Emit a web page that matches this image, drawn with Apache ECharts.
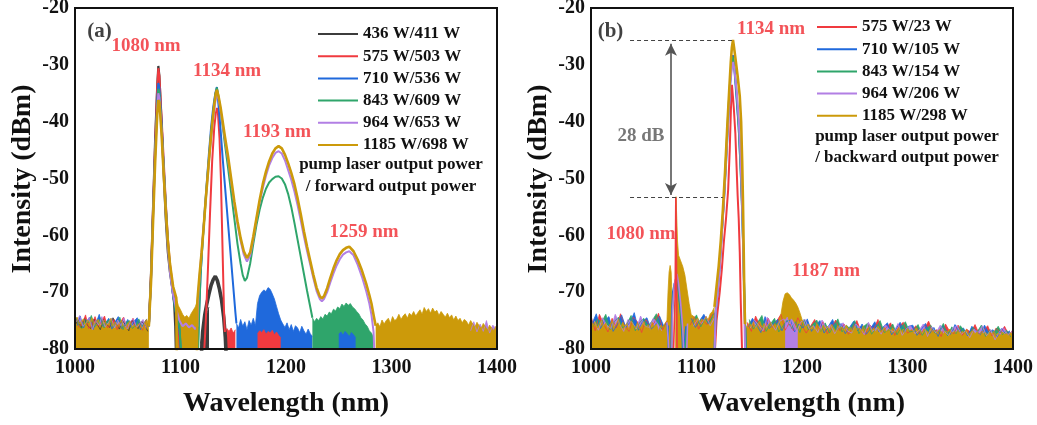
<!DOCTYPE html>
<html>
<head>
<meta charset="utf-8">
<script src="https://cdn.jsdelivr.net/npm/echarts@6.0.0/dist/echarts.min.js"></script>
<style>
html, body { margin: 0; padding: 0; background: #fff; }
#chart { width: 1037px; height: 425px; }
</style>
</head>
<body>
<div id="chart"></div>
<script>
// ---------- axes ----------
const wavelengthRange = [1000, 1400, 100];   // min, max, step (nm)
const intensityRange = [-80, -20, 10];       // min, max, step (dBm)

// ---------- legend names ----------
const namesA = ['436 W/411 W', '575 W/503 W', '710 W/536 W', '843 W/609 W', '964 W/653 W', '1185 W/698 W'];
const namesB = ['575 W/23 W', '710 W/105 W', '843 W/154 W', '964 W/206 W', '1185 W/298 W'];

// ================= (a) forward output spectra =================
// smooth parts of each trace, [wavelength nm, dBm]; -82 marks where the trace drops below the floor
const blackA = [[1070,-76],[1072,-67],[1074,-55],[1076,-43],[1078,-33.5],[1079,-30.2],[1080,-32],[1082,-40],[1084,-49],[1086,-57],[1088,-63],[1090,-66.5],[1092,-69],[1094,-72],[1095,-76],[1095.8,-82]];
const blackA_hump = [[1119.5,-82],[1121,-77],[1123,-74],[1125,-72],[1127,-70.3],[1129,-68.8],[1131,-67.8],[1133,-67.2],[1135,-68],[1137,-69.5],[1139,-71.5],[1141,-74.5],[1142.5,-78],[1143.5,-82]];
const redA = [[1070,-76],[1072,-67],[1074,-55],[1076,-43.5],[1078,-33.5],[1079,-30.6],[1080,-32],[1082,-39],[1084,-46.5],[1086,-54],[1088,-60.5],[1090,-65],[1093,-69.5],[1096,-73],[1098,-75.5],[1100,-82],[1122,-82],[1124,-75],[1126,-66],[1128,-56],[1130,-47],[1132,-41],[1133.5,-38.5],[1134.5,-37.6],[1135.5,-38.5],[1137,-43],[1138.3,-50],[1139.3,-58],[1140.3,-66],[1141.2,-73],[1142,-77]];
const blueA = [[1070,-76],[1072,-68],[1074,-56],[1076,-45],[1078,-36],[1079,-33.2],[1080,-34],[1082,-40],[1084,-47.5],[1086,-54.5],[1088,-61],[1090,-65.5],[1093,-70.5],[1096,-74],[1099,-76.5],[1101,-82],[1116,-82],[1117.5,-74],[1119,-67],[1121,-61],[1123,-55.5],[1125,-50.5],[1127,-45.5],[1129,-41],[1131,-37.5],[1133,-35],[1134.5,-33.9],[1136,-37],[1138,-41.5],[1140,-46.5],[1142,-51],[1144,-55.5],[1146,-60],[1148,-64.5],[1150,-69],[1152,-73.5],[1153,-75.5]];
const greenA = [[1070,-76],[1072,-68],[1074,-56.5],[1076,-45.5],[1078,-37],[1079,-34.2],[1080,-35],[1082,-41],[1084,-48],[1086,-55],[1088,-61.5],[1090,-66],[1093,-70.5],[1096,-74],[1099,-76],[1101,-82],[1116.5,-82],[1117.5,-75],[1119,-67],[1121,-61],[1123,-56],[1125,-51],[1127,-46.5],[1129,-42],[1131,-38.5],[1133,-35.3],[1134.5,-34],[1136,-35.5],[1138,-38],[1140,-40.8],[1142,-43.8],[1145,-48],[1148,-52.5],[1151,-57],[1154,-61.5],[1157,-65],[1159,-67],[1161,-68],[1163,-67.5],[1166,-65],[1169,-61.5],[1172,-58.2],[1175,-55.5],[1178,-53.4],[1181,-51.8],[1184,-50.7],[1187,-50.1],[1190,-49.7],[1193,-49.6],[1196,-50],[1199,-51],[1202,-52.7],[1205,-55],[1208,-57.8],[1211,-60.8],[1214,-63.8],[1217,-66.8],[1220,-69.8],[1223,-72.6],[1225,-74.5]];
const purpleA = [[1070,-76],[1072,-68.5],[1074,-57],[1076,-46],[1078,-37.5],[1079,-35],[1080,-35.8],[1082,-41.5],[1084,-48.5],[1086,-55.5],[1088,-62],[1090,-66.5],[1093,-70.5],[1096,-73],[1099,-75],[1102,-76],[1105,-75.5],[1108,-76.2],[1111,-75.8],[1114,-76.5],[1116,-76],[1117,-70],[1119,-65],[1121,-60.5],[1123,-56],[1125,-51.5],[1127,-47],[1129,-43],[1131,-39.5],[1133,-36.5],[1134.5,-35.2],[1136,-36],[1138,-38],[1140,-40.5],[1142,-43],[1145,-46.5],[1148,-50.5],[1151,-54.5],[1154,-58],[1157,-61],[1160,-63.4],[1163,-64.6],[1166,-63.6],[1169,-60.6],[1172,-57.2],[1175,-54.2],[1178,-51.7],[1181,-49.5],[1184,-47.7],[1187,-46.4],[1190,-45.5],[1193,-45.2],[1196,-45.6],[1199,-46.8],[1202,-48.5],[1205,-50.2],[1208,-52.3],[1211,-54.7],[1214,-57.4],[1217,-60.2],[1220,-62.8],[1223,-65.2],[1226,-67.6],[1229,-69.8],[1232,-71.2],[1234,-71.6],[1236,-71.2],[1239,-70],[1242,-68.3],[1245,-66.7],[1248,-65.3],[1251,-64.2],[1254,-63.4],[1257,-63],[1260,-62.8],[1264,-63.5],[1268,-65.2],[1272,-67.3],[1276,-69.8],[1279,-72],[1281,-74],[1283,-77],[1284,-82]];
const goldA = [[1070,-76],[1072,-68.5],[1074,-57.5],[1076,-47],[1078,-38.5],[1079,-36.2],[1080,-36.6],[1082,-42],[1084,-49],[1086,-55.5],[1088,-61],[1090,-65],[1093,-69],[1096,-71],[1096.5,-82],[1115.5,-82],[1116,-71.5],[1118,-67],[1120,-63],[1122,-58.5],[1124,-53.5],[1126,-49],[1128,-44.5],[1130,-40.5],[1132,-37],[1133.5,-35],[1134.5,-34.4],[1136,-35.5],[1138,-37.5],[1140,-40],[1142,-42.5],[1145,-46],[1148,-50],[1151,-54],[1154,-57.5],[1157,-60.5],[1160,-62.8],[1163,-64],[1166,-63],[1169,-60.2],[1172,-57],[1175,-53.8],[1178,-51],[1181,-48.8],[1184,-47],[1187,-45.6],[1190,-44.7],[1193,-44.3],[1196,-44.7],[1199,-45.8],[1202,-47.3],[1205,-49],[1208,-51],[1211,-53.5],[1214,-56.3],[1217,-59.3],[1220,-62],[1223,-64.5],[1226,-67],[1229,-69.2],[1232,-70.7],[1234,-71.1],[1236,-70.7],[1239,-69.3],[1242,-67.5],[1245,-65.8],[1248,-64.4],[1251,-63.3],[1254,-62.6],[1257,-62.2],[1260,-62],[1264,-62.8],[1268,-64.3],[1272,-66.2],[1276,-68.5],[1279,-70.5],[1281,-72],[1283,-74],[1285,-75.9]];

// noise-floor envelopes (upper edge, dBm) sampled on regular wavelength grids
const blackA_L = [-75.8,-74.9,-76.3,-74.6,-75.9,-76.4,-74.7,-75.6,-76.6,-74.8,-75.7,-76.2,-74.5,-75.5,-76.5,-75.0,-75.8,-76.8,-74.9,-76.0,-76.4,-75.1,-75.7,-76.9];
const blackA_H = [-79,-77,-75.3,-73.8,-72.6];
const redA_L = [-74.5,-76.2,-75.5,-74.0,-76.4,-75.8,-74.3,-76.0,-75.2,-74.2,-76.3,-75.6,-74.8,-76.6,-75.3,-74.4,-76.2,-75.8,-74.6,-76.3,-75.4,-76.7,-74.9];
const redA_M = [-77.0,-76.4,-76.9,-76.3,-77.2,-76.6];
const redA_U = [-77.3,-76.8,-77.1,-76.6,-77.4,-76.9,-77.2,-76.7,-77.5,-77.0,-77.6,-78.0];
const blueA_L = [-75.9,-74.2,-76.3,-75.1,-74.4,-76.6,-75.4,-73.9,-76.0,-75.4,-74.6,-76.5,-75.2,-74.3,-76.4,-75.8,-74.8,-76.2,-75.1,-74.5,-76.6,-75.6,-74.7];
const blueA_M = [-75.5,-76.3,-74.8,-76.0,-75.2,-76.6,-75.0,-75.8,-74.6,-75.9,
  -72.0,-70.6,-70.0,-69.6,-69.9,-69.2,-69.5,-70.3,-71.2,-72.5,
  -73.8,-74.9,-75.6,-76.2,-75.4,-76.6,-75.7,-76.9,-75.9,-76.3,
  -77.1,-76.0,-76.8,-77.4,-76.5,-77.3,-77.8];
const blueA_U = [-77.4,-77.0,-77.6,-76.9,-77.3,-77.8,-77.1,-77.5,-78.0];
const greenA_L = [-74.3,-75.7,-76.4,-74.8,-75.4,-74.1,-76.1,-75.6,-74.5,-76.3,-75.1,-74.8,-76.2,-75.5,-74.4,-76.6,-75.3,-75.0,-76.4,-75.8,-74.7,-76.0,-75.4];
const greenA_M = [-74.5,-75.2,-74.6,-75.0,-74.3,-74.7,-73.9,-74.2,-73.5,-73.8,-73.0,-73.3,-72.6,-72.9,-72.1,-72.5,-71.9,-72.3,-72.0,-72.6,-72.9,-73.4,-73.8,-74.5,-74.9,-75.6,-76.0,-76.8,-77.2,-78.0];
const purpleA_L = [-75.2,-74.1,-76.0,-75.5,-74.4,-76.6,-75.0,-75.8,-74.3,-76.1,-75.4,-74.6,-76.3,-74.9,-75.9,-74.5,-76.5,-75.1,-74.7,-76.2,-75.5,-74.8,-76.4];
const purpleA_R = [-76.8,-75.2,-77.0,-75.6,-76.9,-75.0,-77.2,-75.8,-76.4];
const goldA_L = [-75.0,-74.4,-75.6,-75.1,-74.7,-75.8,-74.9,-75.4,-74.5,-75.7,
  -75.2,-74.8,-76.0,-75.3,-74.9,-75.8,-75.5,-74.6,-75.9,-75.2,
  -76.1,-75.4,-75.0,-75.9,-76.3,-75.5,-75.1,-76.2,-75.7,-76.4,
  -75.6,-75.9,-76.5,-75.3,-74.8,-75.9];
const goldA_M = [-71.0,-72.4,-73.1,-73.9,-74.4,-74.1,-74.6,-73.8,-73.2,-72.6,-71.5];
const goldA_R = [-75.9,-75.4,-76.1,-74.9,-75.6,-75.0,-74.6,-75.5,-74.3,-75.0,
  -74.7,-73.9,-74.8,-74.2,-73.8,-74.6,-73.7,-74.1,-73.4,-74.2,
  -73.6,-73.1,-73.9,-72.7,-73.4,-72.9,-73.7,-72.8,-73.5,-73.2,
  -74.1,-73.4,-73.9,-74.4,-73.7,-74.5,-74.0,-74.9,-74.2,-75.0,
  -74.6,-75.4,-74.8,-75.1,-75.8,-75.0,-75.6,-76.2,-75.3,-75.9,
  -76.4,-75.5,-76.1,-76.7,-75.8,-76.3,-76.8,-76.0,-76.6];

// ================= (b) backward output spectra =================
const redB = [[1117,-82],[1119,-75],[1122,-70],[1124,-66],[1126,-61],[1128,-57],[1130,-52],[1131.5,-45],[1132.6,-38],[1133.6,-33.5],[1134.5,-35.5],[1135.5,-38],[1136.8,-42],[1138,-48],[1139,-53],[1140,-57],[1141,-63],[1142,-72],[1143,-79],[1143.4,-82]];
const blueB = [[1117,-82],[1118,-74],[1120,-69.5],[1122,-65],[1124,-59.5],[1126,-54],[1128,-47.5],[1130,-40],[1132,-33],[1133.5,-29.5],[1134.5,-28.3],[1136,-31],[1138,-36],[1140,-41],[1142,-49],[1143.5,-57],[1145,-68],[1146.5,-78],[1147,-82]];
const greenB = [[1117,-82],[1118,-74],[1120,-70],[1122,-65.5],[1124,-59.5],[1126,-53.5],[1128,-46],[1130,-38.5],[1132,-32.5],[1133.5,-29.5],[1134.6,-28.6],[1136,-30.5],[1138,-35],[1140,-41],[1141.5,-47],[1143,-54],[1144.3,-62],[1145.5,-72],[1146.5,-79],[1147,-82]];
const purpleB = [[1117,-82],[1118,-74],[1120,-70],[1122,-66],[1124,-60],[1126,-54],[1128,-47],[1130,-40],[1132,-33.5],[1133.5,-30.5],[1134.8,-29.5],[1136,-31],[1138,-34.5],[1140,-39.5],[1141.5,-45],[1142.8,-52],[1144,-60],[1145,-70],[1145.8,-78],[1146.3,-82]];
const goldB = [[1117,-72.6],[1119,-69],[1121,-65.5],[1123,-61],[1125,-55.5],[1127,-49],[1129,-41.5],[1131,-34.5],[1132.5,-29.5],[1133.5,-27],[1134.6,-25.6],[1135.5,-26.8],[1137,-29],[1139,-32],[1141,-35.5],[1142.3,-40],[1143.3,-47],[1144,-53.5],[1144.7,-62],[1145.3,-70],[1146,-75.6]];
// weak 1080 nm line of the backward spectra
const redB_1080 = [[1078,-82],[1079.8,-70],[1080.4,-53.3],[1081,-65],[1081.6,-82]];
const blueB_1080 = [[1071,-75.5],[1073,-76],[1073.6,-82],[1075.8,-82],[1076.5,-74],[1077.5,-70],[1079,-68.5],[1081,-68],[1083,-70],[1085,-74],[1086.5,-78],[1087.2,-82],[1089,-82],[1090,-76]];
const greenB_1080 = [[1072,-75.8],[1073,-78],[1073.8,-82],[1076.2,-82],[1077,-74],[1078.5,-69.5],[1080.5,-67.5],[1082,-68],[1084,-71.5],[1086,-75.5],[1087.5,-79],[1088.2,-82],[1090,-82],[1091,-76]];
const purpleB_1080 = [[1072,-75.3],[1073.2,-78.5],[1074,-82],[1076.5,-82],[1077.3,-73],[1079,-68.5],[1081.5,-66.8],[1083,-68.5],[1085,-72],[1087,-76.5],[1088.3,-82],[1090.5,-82],[1091.5,-75.5]];
const goldB_1080 = [[1073,-70],[1074,-66.5],[1075,-65.3],[1076,-66.5],[1077,-72],[1077.8,-80],[1080.2,-80],[1080.6,-53.2],[1081.3,-57],[1082,-61],[1083,-63.5],[1085,-64.5],[1087,-65.5],[1089,-67],[1091,-69.5],[1093,-72],[1095,-74]];

const redB_L = [-74.2,-76.8,-73.9,-75.6,-77.0,-74.6,-76.3,-73.8,-75.9,-76.9,-74.4,-75.2,-77.1,-74.8,-76.0,-75.4,-73.7,-76.6,-75.0];
const redB_M = [-75.8,-74.3,-76.5,-74.9,-75.7,-74.1,-73.6];
const redB_R = [-75.3,-76.9,-74.2,-75.8,-77.0,-74.6,-76.2,-75.1,-73.9,-76.7,
  -75.4,-76.8,-74.5,-75.9,-77.2,-76.0,-74.8,-76.6,-75.2,-77.3,
  -76.1,-74.9,-76.8,-75.6,-77.4,-76.3,-75.0,-76.9,-77.5,-75.7,
  -76.5,-74.8,-77.1,-76.2,-75.4,-77.6,-76.0,-75.3,-77.2,-76.7,
  -75.9,-77.5,-76.4,-75.1,-77.0,-76.6,-77.8,-75.6,-76.9,-77.3,
  -75.8,-77.6,-76.5,-77.1,-75.7,-77.4,-76.8,-75.9,-77.7,-76.3,
  -77.2,-76.0,-77.5,-76.6];
const blueB_L = [-75.5,-73.8,-76.4,-75.0,-74.3,-76.9,-75.7,-74.0,-76.2,-75.3,-73.6,-76.7,-75.1,-74.5,-76.5,-75.8,-74.2,-76.0];
const blueB_M = [-74.6,-76.2,-75.0,-73.9,-75.5,-74.4];
const blueB_R = [-76.1,-74.6,-75.7,-77.1,-74.3,-76.4,-75.5,-74.8,-76.8,-75.2,
  -74.9,-77.0,-75.6,-76.3,-74.7,-76.9,-75.8,-75.0,-77.2,-76.0,
  -74.8,-76.7,-75.5,-77.3,-76.2,-75.1,-76.8,-75.6,-77.4,-76.4,
  -75.2,-77.0,-76.1,-75.4,-77.5,-76.5,-75.3,-77.1,-76.0,-75.8,
  -77.6,-76.6,-75.5,-77.3,-76.2,-77.8,-75.9,-76.8,-77.4,-75.7,
  -77.0,-76.3,-77.7,-76.0,-76.9,-77.5,-75.8,-77.2,-76.6,-77.9,
  -76.4,-77.3,-76.8];
const greenB_L = [-76.0,-74.7,-75.3,-73.9,-76.6,-75.2,-74.4,-76.3,-75.6,-74.1,-76.8,-75.4,-74.6,-76.1,-75.0,-73.8,-76.5,-75.7];
const greenB_M = [-75.3,-74.0,-76.1,-74.7,-75.6,-73.8];
const greenB_R = [-74.8,-76.5,-75.3,-74.1,-76.9,-75.6,-74.6,-77.0,-75.9,-74.9,
  -76.4,-75.2,-77.1,-74.8,-76.6,-75.7,-74.9,-76.9,-75.4,-77.2,
  -76.0,-74.7,-77.0,-75.8,-76.5,-75.0,-77.3,-76.1,-75.5,-77.4,
  -76.3,-75.0,-77.1,-76.7,-75.6,-77.5,-76.2,-75.2,-77.0,-76.8,
  -75.7,-77.6,-76.4,-75.8,-77.2,-76.9,-75.5,-77.7,-76.1,-77.3,
  -75.9,-76.8,-77.6,-76.2,-77.0,-75.8,-77.8,-76.6,-77.1,-76.0,
  -77.5,-76.7,-77.9];
const purpleB_L = [-75.0,-76.7,-74.5,-75.8,-76.4,-73.9,-75.6,-76.9,-74.8,-75.3,-76.5,-74.2,-75.9,-76.2,-74.6,-75.5,-76.8];
const purpleB_M = [-76.0,-74.8,-75.5,-74.2,-75.9,-74.5];
const purpleB_R = [-76.3,-74.9,-75.8,-76.8,-74.4,-75.5,-76.7,-75.1,-74.7,-76.9,
  -75.6,-77.0,-75.2,-74.8,-76.5,-75.9,-77.1,-74.9,-76.4,-75.7,
  -77.3,-76.0,-75.4,-76.8,-77.2,-75.6,-76.3,-77.5,-75.3,-76.9,
  -76.2,-77.4,-75.7,-76.6,-77.0,-75.5,-77.6,-76.4,-75.9,-77.3,
  -76.7,-75.6,-77.8,-76.1,-77.2,-75.8,-76.9,-77.6,-76.3,-75.9,
  -77.4,-76.8,-78.0,-76.5,-77.1,-75.9,-77.7,-76.6,-78.4,-77.0,
  -76.2,-77.5,-76.9];
const purpleB_H = [-75.0,-74.4,-75.6,-74.7,-75.3,-76.2,-77.0];
const goldB_L = [-74.8,-75.9,-75.2,-76.3,-75.5,-74.9,-76.1,-75.4,-76.6,-75.7,
  -75.0,-76.2,-75.6,-74.8,-76.4,-75.3,-76.0,-75.5,-76.7,-75.1,
  -75.8,-76.3,-75.4,-76.5,-75.9,-75.2,-76.4,-75.7,-76.8,-75.3,
  -76.1,-75.6,-76.9,-75.8,-76.2,-75.5,-75.0];
const goldB_M = [-74.2,-75.1,-74.5,-75.4,-74.7,-75.2,-74.3,-74.9,-73.8,-73.4,-72.6];
const goldB_R = [-75.6,-76.3,-75.4,-76.0,-75.2,-76.5,-75.7,-75.1,-76.2,-75.5,-76.4,-75.8,-75.3,-76.1,-75.6,-75.9,-75.2,
  -74.0,-71.6,-70.3,-70.1,-70.4,-71.0,-71.4,-71.9,-72.6,-73.6,-74.8,-75.7,-76.1,
  -75.6,-76.4,-75.9,-76.7,-75.5,-76.2,-76.8,-75.8,-76.5,-76.0,
  -76.6,-75.7,-76.3,-76.9,-75.9,-76.4,-76.1,-76.8,-75.8,-76.5,
  -76.2,-76.9,-76.0,-76.6,-76.3,-77.0,-75.9,-76.7,-76.4,-76.1,
  -76.8,-76.3,-77.1,-76.0,-76.6,-76.9,-76.2,-77.0,-76.5,-76.8,
  -76.3,-77.1,-76.6,-76.2,-76.9,-76.5,-77.2,-76.4,-76.8,-76.6,
  -77.0,-76.3,-76.9,-76.7,-77.3,-76.5,-76.8,-77.1,-76.4,-77.0,
  -76.7,-77.2,-76.6,-76.9,-77.4,-76.8,-77.0,-76.5,-77.3,-76.9,
  -77.1,-76.7,-77.4,-76.9,-77.2,-76.6,-77.5,-77.0,-76.8,-77.3,
  -77.0,-77.6,-76.9,-77.3,-77.1,-77.7,-77.0,-77.4,-76.9,-77.5,
  -77.2,-77.6,-77.0,-77.4,-77.3,-77.7,-77.1,-77.5];

// ---------- styling ----------
const FONT = '"Liberation Serif", "Times New Roman", serif';
const COL = { black: '#3c3c3c', red: '#f03a3f', blue: '#1f69dc', green: '#2fa56b', purple: '#b27fe4', gold: '#cc9a0a' };
const LABEL_RED = '#f0282e';
const GRID_A = { left: 75, top: 8, width: 422, height: 341 };
const GRID_B = { left: 591, top: 8, width: 422, height: 341 };

// regular sampling grid -> [x, y] pairs
function grid(start, step, vals) { return vals.map((v, i) => [start + i * step, v]); }

function trace(name, color, data, gi, width) {
  return { type: 'line', name, xAxisIndex: gi, yAxisIndex: gi, data, symbol: 'none', showSymbol: false,
    lineStyle: { color, width }, itemStyle: { color }, silent: true, clip: true };
}
function floor(name, color, data, gi) {
  return { type: 'line', name, xAxisIndex: gi, yAxisIndex: gi, data, symbol: 'none', showSymbol: false,
    lineStyle: { color, width: 0.8 }, itemStyle: { color },
    areaStyle: { color, opacity: 1, origin: 'start' }, silent: true, clip: true };
}

const [nBk, nR, nBl, nG, nP, nGo] = namesA;
const seriesA = [
  floor(nBk, COL.black, grid(1000, 3, blackA_L), 0),
  floor(nR, COL.red, grid(1001, 3, redA_L), 0),
  floor(nBl, COL.blue, grid(1002, 3, blueA_L), 0),
  floor(nG, COL.green, grid(1000.5, 3, greenA_L), 0),
  floor(nP, COL.purple, grid(1001.5, 3, purpleA_L), 0),
  floor(nBk, COL.black, grid(1119, 2, blackA_H), 0),
  trace(nBk, COL.black, blackA, 0, 2.2),
  trace(nBk, COL.black, blackA_hump, 0, 3.6),
  floor(nR, COL.red, grid(1142, 2, redA_M), 0),
  trace(nR, COL.red, redA, 0, 2),
  floor(nBl, COL.blue, grid(1153, 2, blueA_M), 0),
  floor(nR, COL.red, grid(1173, 2, redA_U), 0),
  trace(nBl, COL.blue, blueA, 0, 2),
  floor(nG, COL.green, grid(1225, 2, greenA_M), 0),
  floor(nBl, COL.blue, grid(1250, 2, blueA_U), 0),
  trace(nG, COL.green, greenA, 0, 2),
  floor(nP, COL.purple, grid(1375, 3, purpleA_R), 0),
  trace(nP, COL.purple, purpleA, 0, 2),
  floor(nGo, COL.gold, grid(1000, 2, goldA_L), 0),
  floor(nGo, COL.gold, grid(1096, 2, goldA_M), 0),
  floor(nGo, COL.gold, grid(1285, 2, goldA_R), 0),
  trace(nGo, COL.gold, goldA, 0, 2.6)
];

const [mR, mBl, mG, mP, mGo] = namesB;
const seriesB = [
  floor(mR, COL.red, grid(1000, 4, redB_L), 1),
  floor(mR, COL.red, grid(1094, 4, redB_M), 1),
  floor(mR, COL.red, grid(1148, 4, redB_R), 1),
  floor(mBl, COL.blue, grid(1001, 4, blueB_L), 1),
  floor(mBl, COL.blue, grid(1095, 4, blueB_M), 1),
  floor(mBl, COL.blue, grid(1149, 4, blueB_R), 1),
  floor(mG, COL.green, grid(1002, 4, greenB_L), 1),
  floor(mG, COL.green, grid(1096, 4, greenB_M), 1),
  floor(mG, COL.green, grid(1150, 4, greenB_R), 1),
  floor(mP, COL.purple, grid(1003, 4, purpleB_L), 1),
  floor(mP, COL.purple, grid(1097, 4, purpleB_M), 1),
  floor(mP, COL.purple, grid(1151, 4, purpleB_R), 1),
  trace(mR, COL.red, redB, 1, 2),
  trace(mBl, COL.blue, blueB, 1, 2),
  trace(mG, COL.green, greenB, 1, 2),
  trace(mP, COL.purple, purpleB, 1, 2),
  floor(mGo, COL.gold, [...grid(1000, 2, goldB_L), ...goldB_1080, ...grid(1097, 2, goldB_M)], 1),
  floor(mGo, COL.gold, grid(1146, 2, goldB_R), 1),
  trace(mGo, COL.gold, goldB, 1, 2.6),
  floor(mP, COL.purple, grid(1184, 2, purpleB_H), 1),
  trace(mBl, COL.blue, blueB_1080, 1, 1.6),
  trace(mG, COL.green, greenB_1080, 1, 1.6),
  trace(mP, COL.purple, purpleB_1080, 1, 1.6),
  trace(mR, COL.red, redB_1080, 1, 1.6)
];

// text annotations placed in data coordinates: [text, wavelength, dBm, colour, size]
function notes(gi, list, extra) {
  return Object.assign({
    type: 'scatter', xAxisIndex: gi, yAxisIndex: gi, symbolSize: 1, silent: true, z: 6,
    itemStyle: { color: 'rgba(0,0,0,0)' },
    label: { show: true, position: 'inside', fontFamily: FONT, fontWeight: 'bold' },
    data: list.map(n => ({ value: [n[1], n[2]], label: { formatter: n[0], color: n[3], fontSize: n[4] } }))
  }, extra || {});
}
const notesA = notes(0, [
  ['(a)', 1023.2, -24.2, '#111', 21],
  ['1080 nm', 1067.3, -26.7, LABEL_RED, 19],
  ['1134 nm', 1144.1, -31.1, LABEL_RED, 19],
  ['1193 nm', 1191.5, -41.8, LABEL_RED, 19],
  ['1259 nm', 1273.9, -59.4, LABEL_RED, 19]
]);
const notesB = notes(1, [
  ['(b)', 1018.5, -24.2, '#111', 21],
  ['1134 nm', 1170.6, -23.7, LABEL_RED, 19],
  ['1080 nm', 1047.4, -59.8, LABEL_RED, 19],
  ['1187 nm', 1222.7, -66.3, LABEL_RED, 19],
  ['28 dB', 1047.4, -42.5, '#555', 19]
], {
  markLine: {
    silent: true, animation: false, symbol: 'none', label: { show: false },
    lineStyle: { color: '#444', type: [4, 3], width: 1.2 },
    emphasis: { disabled: true },
    data: [
      [{ coord: [1037, -25.6] }, { coord: [1134.6, -25.6] }],
      [{ coord: [1037, -53.3] }, { coord: [1125, -53.3] }],
      [{ coord: [1075.8, -26.3], symbol: 'arrow', symbolSize: [9, 12], lineStyle: { type: 'solid', width: 1.6, color: '#555' } },
       { coord: [1075.8, -52.9], symbol: 'arrow', symbolSize: [9, 12] }]
    ]
  }
});

const tickStyle = { fontSize: 20, fontWeight: 'bold', fontFamily: FONT, color: '#111', formatter: v => String(v) };
function xAxis(gi) {
  return { gridIndex: gi, type: 'value', min: wavelengthRange[0], max: wavelengthRange[1], interval: wavelengthRange[2],
    axisLine: { show: false }, axisTick: { show: false }, splitLine: { show: false },
    axisLabel: Object.assign({ margin: 9 }, tickStyle) };
}
function yAxis(gi) {
  return { gridIndex: gi, type: 'value', min: intensityRange[0], max: intensityRange[1], interval: intensityRange[2],
    axisLine: { show: false }, axisTick: { show: false }, splitLine: { show: false },
    axisLabel: Object.assign({ margin: 6 }, tickStyle) };
}
function legend(names, left, top) {
  return { data: names, orient: 'vertical', left, top, icon: 'rect', itemWidth: 40, itemHeight: 2, itemGap: 2.2,
    selectedMode: false,
    textStyle: { fontFamily: FONT, fontWeight: 'bold', fontSize: 17, color: '#111', lineHeight: 20 } };
}
function txt(text, x, y, size, rot) {
  return { type: 'text', x, y, rotation: rot || 0, silent: true, z: 50,
    style: { text, fill: '#111', fontFamily: FONT, fontWeight: 'bold', fontSize: size, align: 'center', verticalAlign: 'middle' } };
}
function frame(g) {
  return { type: 'rect', silent: true, z: 100, shape: { x: g.left, y: g.top, width: g.width, height: g.height },
    style: { fill: null, stroke: '#111', lineWidth: 2 } };
}

const option = {
  animation: false,
  backgroundColor: '#fff',
  textStyle: { fontFamily: FONT },
  grid: [
    Object.assign({ outerBoundsMode: 'none', containLabel: false }, GRID_A),
    Object.assign({ outerBoundsMode: 'none', containLabel: false }, GRID_B)
  ],
  xAxis: [xAxis(0), xAxis(1)],
  yAxis: [yAxis(0), yAxis(1)],
  legend: [legend(namesA, 313, 19), legend(namesB, 812, 12)],
  graphic: [
    frame(GRID_A), frame(GRID_B),
    txt('Intensity (dBm)', 22.5, 179, 28, Math.PI / 2),
    txt('Intensity (dBm)', 538.5, 179, 28, Math.PI / 2),
    txt('Wavelength (nm)', 286, 404, 28),
    txt('Wavelength (nm)', 802, 404, 28),
    txt('pump laser output power', 391, 165, 17),
    txt('/ forward output power', 391, 187, 17),
    txt('pump laser output power', 907, 137, 17),
    txt('/ backward output power', 907, 158, 17)
  ],
  series: [...seriesA, notesA, ...seriesB, notesB]
};

const chart = echarts.init(document.getElementById('chart'), null, { renderer: 'canvas' });
chart.setOption(option);
</script>
</body>
</html>
